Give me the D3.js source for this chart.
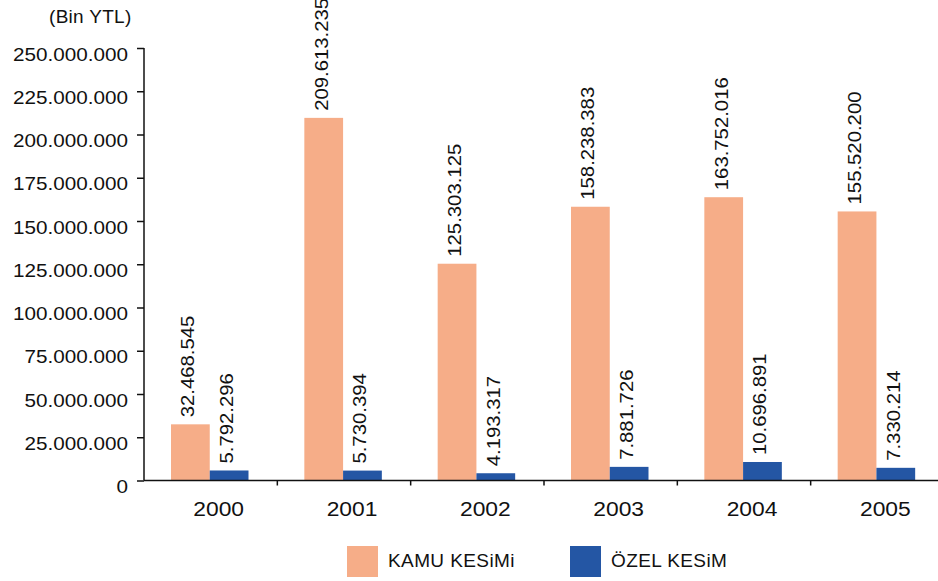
<!DOCTYPE html>
<html><head><meta charset="utf-8">
<script src="https://cdn.jsdelivr.net/npm/d3@7"></script>
<style>body{margin:0;background:#fff}svg{display:block}text{font-family:"Liberation Sans",Arial,sans-serif;fill:#111}</style>
</head><body>
<script>
const years = ["2000","2001","2002","2003","2004","2005"];
const kamu = [32468545, 209613235, 125303125, 158238383, 163752016, 155520200];
const ozel = [5792296, 5730394, 4193317, 7881726, 10696891, 7330214];
const yTicks = [0,25e6,50e6,75e6,100e6,125e6,150e6,175e6,200e6,225e6,250e6];
const seriesNames = ["KAMU KESiMi","ÖZEL KESiM"];
const colors = ["#F6AD88","#2456A4"];

const W=938,H=581,FS=19;
const loc = d3.formatLocale({decimal:",",thousands:".",grouping:[3],currency:["",""]});
const fmt = loc.format(",d");
const svg = d3.select("body").append("svg").attr("width",W).attr("height",H);

const x = d3.scaleBand().domain(years).range([144,944]);
const x1 = d3.scaleBand().domain([0,1]).range([27,104.5]);
const y = d3.scaleLinear().domain([0,250e6]).range([480.5,48]);

// bars
const data = years.map((yr,i)=>({yr,vals:[kamu[i],ozel[i]]}));
const g = svg.append("g");
data.forEach(d=>{
  d.vals.forEach((v,j)=>{
    g.append("rect").attr("x",x(d.yr)+x1(j)).attr("width",x1.bandwidth())
      .attr("y",y(v)).attr("height",y(0)-y(v)).attr("fill",colors[j]);
    const cx = x(d.yr)+x1(j)+x1.bandwidth()/2+4;
    g.append("text").attr("transform",`translate(${cx},${y(v)-7}) rotate(-90) scale(1.07,1)`)
      .attr("font-size",FS).text(fmt(v));
  });
});

// y axis
const ya = svg.append("g").attr("transform","translate(144,0)")
  .call(d3.axisLeft(y).tickValues(yTicks).tickFormat(fmt).tickSize(7).tickPadding(9));
ya.selectAll("text").attr("font-size",18.8).attr("x",-16/1.1).attr("transform","scale(1.1,1)").attr("dy","0.65em").style("font-family",'"Liberation Sans",Arial,sans-serif').attr("fill","#111");
ya.selectAll("line,path").attr("stroke","#111").attr("stroke-width",1.5);
ya.select(".domain").attr("d","M0,48V480.5");

// x axis
const xa = svg.append("g").attr("transform","translate(0,480.5)")
  .call(d3.axisBottom(x).tickSize(0).tickPadding(22));
xa.selectAll("text").attr("font-size",19.5).attr("dx",8/1.17).attr("transform","scale(1.17,1)").style("font-family",'"Liberation Sans",Arial,sans-serif').attr("fill","#111");
xa.select(".domain").attr("stroke","#111").attr("stroke-width",1.5).attr("d","M144,0H938");
xa.selectAll(".tick").filter((d,i)=>i>0).append("line")
  .attr("x1",-x.bandwidth()/2).attr("x2",-x.bandwidth()/2).attr("y1",0).attr("y2",5)
  .attr("stroke","#111").attr("stroke-width",1.5);

// title
svg.append("text").attr("x",49).attr("y",23).attr("font-size",FS).attr("letter-spacing",0.3).text("(Bin YTL)");

// legend
const lx=[347,570];
seriesNames.forEach((n,i)=>{
  svg.append("rect").attr("x",lx[i]).attr("y",546).attr("width",31).attr("height",31).attr("fill",colors[i]);
  svg.append("text").attr("x",lx[i]+41).attr("y",567).attr("font-size",FS).attr("letter-spacing",0.4).text(n);
});
</script>
</body></html>
